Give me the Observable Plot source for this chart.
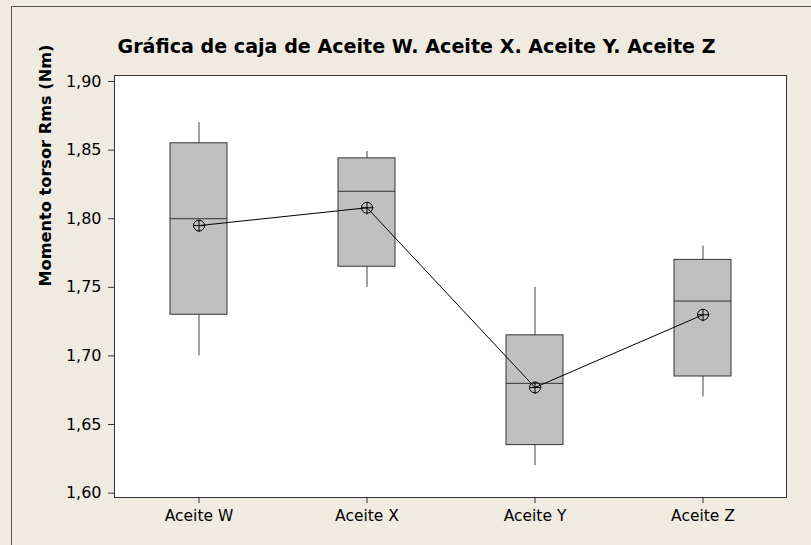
<!DOCTYPE html>
<html>
<head>
<meta charset="utf-8">
<script src="https://cdn.jsdelivr.net/npm/d3@7"></script>
<script src="https://cdn.jsdelivr.net/npm/@observablehq/plot@0.6"></script>
<style>
  html, body { margin: 0; padding: 0; background: #efebe1; width: 811px; height: 545px; overflow: hidden; }
  #wrap { position: relative; width: 811px; height: 545px; }
  #border { position: absolute; left: 11px; top: 6px; width: 900px; height: 700px; border-left: 1px solid #555; border-top: 1px solid #555; }
  #chart { position: absolute; left: 0; top: 0; }
</style>
</head>
<body>
<div id="wrap"><div id="border"></div><div id="chart"></div></div>
<script>
const titleText = "Gráfica de caja de Aceite W. Aceite X. Aceite Y. Aceite Z";
const yLabel = "Momento torsor Rms (Nm)";
const categories = ["Aceite W", "Aceite X", "Aceite Y", "Aceite Z"];
const lows    = [1.700, 1.750, 1.620, 1.670];
const q1s     = [1.730, 1.765, 1.635, 1.685];
const medians = [1.800, 1.820, 1.680, 1.740];
const q3s     = [1.855, 1.844, 1.715, 1.770];
const highs   = [1.870, 1.849, 1.750, 1.780];
const means   = [1.795, 1.808, 1.677, 1.730];
const yTicks  = [1.60, 1.65, 1.70, 1.75, 1.80, 1.85, 1.90];

const data = categories.map((c, i) => ({
  cat: c, lo: lows[i], q1: q1s[i], med: medians[i], q3: q3s[i], hi: highs[i], mean: means[i]
}));

const circlePlus = {
  draw(ctx, size) {
    const r = Math.sqrt(size / Math.PI);
    ctx.moveTo(r, 0);
    ctx.arc(0, 0, r, 0, 2 * Math.PI);
    ctx.moveTo(-r, 0); ctx.lineTo(r + 1, 0);
    ctx.moveTo(0, -r); ctx.lineTo(0, r + 1);
  }
};

const plot = Plot.plot({
  width: 811,
  height: 545,
  marginLeft: 114,
  marginRight: 25,
  marginTop: 75,
  marginBottom: 48,
  style: { background: "transparent", fontFamily: "DejaVu Sans, Verdana, sans-serif", color: "#000" },
  x: { type: "band", domain: categories, paddingInner: 0.663, paddingOuter: 0.3315, label: null },
  y: { domain: [1.5968, 1.9044], label: null },
  marks: [
    Plot.frame({ fill: "white", stroke: null }),
    Plot.ruleX(data, { x: "cat", y1: "lo", y2: "q1", stroke: "#444", strokeWidth: 1 }),
    Plot.ruleX(data, { x: "cat", y1: "q3", y2: "hi", stroke: "#444", strokeWidth: 1 }),
    Plot.barY(data, { x: "cat", y1: "q1", y2: "q3", fill: "#c0c0c0", stroke: "#333", strokeWidth: 1 }),
    Plot.tickY(data, { x: "cat", y: "med", stroke: "#333", strokeWidth: 1 }),
    Plot.line(data, { x: "cat", y: "mean", stroke: "#000", strokeWidth: 1 }),
    Plot.dot(data, { x: "cat", y: "mean", symbol: circlePlus, r: 5.5, stroke: "#000", fill: "none", strokeWidth: 1 }),
    Plot.frame({ stroke: "#333", strokeWidth: 1 }),
    Plot.axisY({ ticks: yTicks, tickFormat: d => d.toFixed(2).replace(".", ","), tickSize: 6, tickPadding: 7, fontSize: 16, label: null, stroke: "#333" }),
    Plot.axisX({ tickSize: 6, tickPadding: 6, fontSize: 15.5, label: null, stroke: "#333" }),
    Plot.text([titleText], { text: d => d, frameAnchor: "top", dx: -34, dy: -29, fontSize: 20, fontWeight: "bold", lineAnchor: "middle" }),
    Plot.text([yLabel], { text: d => d, frameAnchor: "left", dx: -68, rotate: -90, fontSize: 15.5, fontWeight: "bold", lineAnchor: "middle" })
  ]
});
document.getElementById("chart").appendChild(plot);
plot.querySelectorAll("text").forEach(t => {
  if (t.textContent === titleText) { t.setAttribute("textLength", 598); t.setAttribute("lengthAdjust", "spacingAndGlyphs"); }
  if (t.textContent === yLabel) { t.setAttribute("textLength", 242); t.setAttribute("lengthAdjust", "spacingAndGlyphs"); }
});
</script>
</body>
</html>
